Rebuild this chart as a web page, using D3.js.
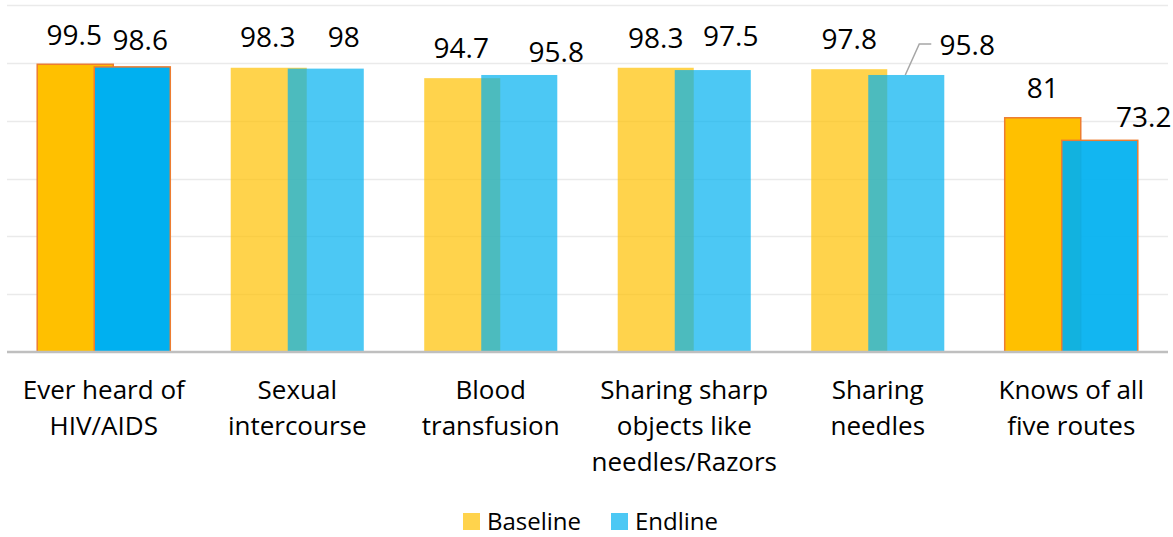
<!DOCTYPE html>
<html>
<head>
<meta charset="utf-8">
<script src="https://cdn.jsdelivr.net/npm/d3@7"></script>
<style>
  body { margin: 0; background: #fff; }
  svg text { font-family: 'Open Sans', 'Noto Sans', sans-serif; fill: #000; }
</style>
</head>
<body>
<div id="chart"></div>
<script>
// data
const categories = [
  ['Ever heard of', 'HIV/AIDS'],
  ['Sexual', 'intercourse'],
  ['Blood', 'transfusion'],
  ['Sharing sharp', 'objects like', 'needles/Razors'],
  ['Sharing', 'needles'],
  ['Knows of all', 'five routes']
];
const baseline = [99.5, 98.3, 94.7, 98.3, 97.8, 81];
const endline = [98.6, 98, 95.8, 97.5, 95.8, 73.2];
const seriesNames = ['Baseline', 'Endline'];
const yTicks = [0, 20, 40, 60, 80, 100, 120];

// styling / layout
const colors = ['#FFC000', '#00B0F0'];
const borderColor = '#ED7D31';
const highlighted = [0, 5];
// label nudges from the bar centre / bar top, [dx, dy] per series
const labelNudge = [
  [[-1, -19], [8, -17]],
  [[-1, -21], [18, -22]],
  [[-1, -20], [37, -13]],
  [[0, -20], [18, -24]],
  [[0, -20], [61, -20]],
  [[0, -20], [44, -13]]
];

(function () {
  const width = 1173, height = 537;
  const left = 7, right = 1168, top = 5, bottom = 352;

  const svg = d3.select('#chart').append('svg')
    .attr('width', width)
    .attr('height', height);

  const x = d3.scaleBand()
    .domain(d3.range(categories.length))
    .range([left, right])
    .padding(0);

  const y = d3.scaleLinear()
    .domain([0, 120])
    .range([bottom, top]);

  const barW = x.bandwidth() * 0.393;
  const step = barW * 0.75;

  function barX(i, s) {
    return x(i) + x.bandwidth() / 2 - (barW + step) / 2 + s * step;
  }

  // grid lines
  svg.append('g')
    .selectAll('line')
    .data(yTicks.slice(1))
    .enter()
    .append('line')
    .attr('x1', left)
    .attr('x2', right)
    .attr('y1', d => Math.round(y(d)) + 0.5)
    .attr('y2', d => Math.round(y(d)) + 0.5)
    .attr('stroke', '#EAEAEA')
    .attr('stroke-width', 1.5);

  const series = [baseline, endline];

  const groups = svg.append('g')
    .selectAll('g.group')
    .data(categories)
    .enter()
    .append('g')
    .attr('class', 'group');

  groups.each(function (c, i) {
    const g = d3.select(this);
    const hl = highlighted.indexOf(i) >= 0;
    series.forEach(function (vals, s) {
      let op = hl ? 1 : 0.7;
      if (i === 5 && s === 1) op = 0.93;
      g.append('rect')
        .attr('x', barX(i, s))
        .attr('y', y(vals[i]))
        .attr('width', barW)
        .attr('height', y(0) - y(vals[i]))
        .attr('fill', colors[s])
        .attr('fill-opacity', op)
        .attr('stroke', hl ? borderColor : 'none')
        .attr('stroke-width', 1.5);
    });
  });

  // axis line
  svg.append('line')
    .attr('x1', left)
    .attr('x2', right)
    .attr('y1', bottom)
    .attr('y2', bottom)
    .attr('stroke', '#BFBFBF')
    .attr('stroke-width', 2.5);

  // value labels
  const labels = svg.append('g');
  series.forEach(function (vals, s) {
    vals.forEach(function (v, i) {
      const nudge = labelNudge[i][s];
      labels.append('text')
        .attr('x', barX(i, s) + barW / 2 + nudge[0])
        .attr('y', y(v) + nudge[1])
        .attr('text-anchor', 'middle')
        .style('font-size', '28px')
        .text(v);
    });
  });

  // leader line for the repositioned label
  const lx = barX(4, 1) + barW / 2;
  labels.append('path')
    .attr('d', 'M' + (lx - 1) + ',' + y(endline[4]) + 'L' + (lx + 13) + ',' + 44 + 'H' + (lx + 25))
    .attr('fill', 'none')
    .attr('stroke', '#A6A6A6')
    .attr('stroke-width', 1.5);

  // category labels
  const catLabels = svg.append('g');
  categories.forEach(function (lines, i) {
    const t = catLabels.append('text')
      .attr('x', x(i) + x.bandwidth() / 2)
      .attr('y', 399)
      .attr('text-anchor', 'middle')
      .style('font-size', '26px');
    lines.forEach(function (ln, k) {
      t.append('tspan')
        .attr('x', x(i) + x.bandwidth() / 2)
        .attr('y', 399 + k * 36)
        .text(ln);
    });
  });

  // legend
  const legend = svg.append('g').attr('class', 'legend');
  const legendX = [463, 611];
  seriesNames.forEach(function (name, s) {
    legend.append('rect')
      .attr('x', legendX[s])
      .attr('y', 513)
      .attr('width', 17)
      .attr('height', 17)
      .attr('fill', colors[s])
      .attr('fill-opacity', 0.7);
    legend.append('text')
      .attr('x', legendX[s] + 24)
      .attr('y', 530)
      .style('font-size', '24px')
      .text(name);
  });
}());
</script>
</body>
</html>
